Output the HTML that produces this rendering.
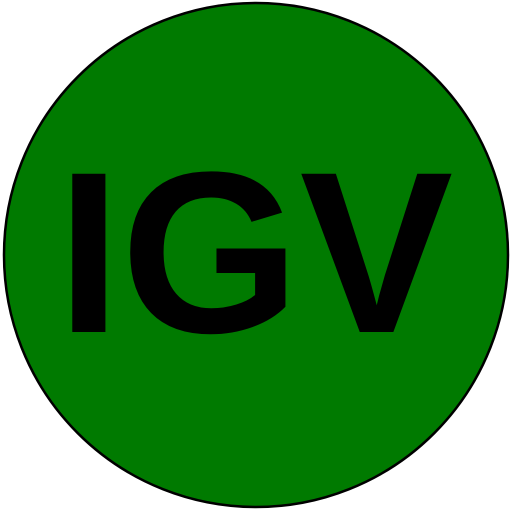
<!DOCTYPE html>
<html>
<head>
<meta charset="utf-8">
<style>
  html, body { margin: 0; padding: 0; background: #ffffff; }
  svg { display: block; }
</style>
</head>
<body>
<svg width="512" height="512" viewBox="0 0 512 512">
  <circle cx="256" cy="255" r="252" fill="#007a00" stroke="#000000" stroke-width="2.5"/>
  <text x="255" y="332" text-anchor="middle" font-family="'Liberation Sans', sans-serif" font-weight="bold" font-size="230" fill="#000000">IGV</text>
</svg>
</body>
</html>
